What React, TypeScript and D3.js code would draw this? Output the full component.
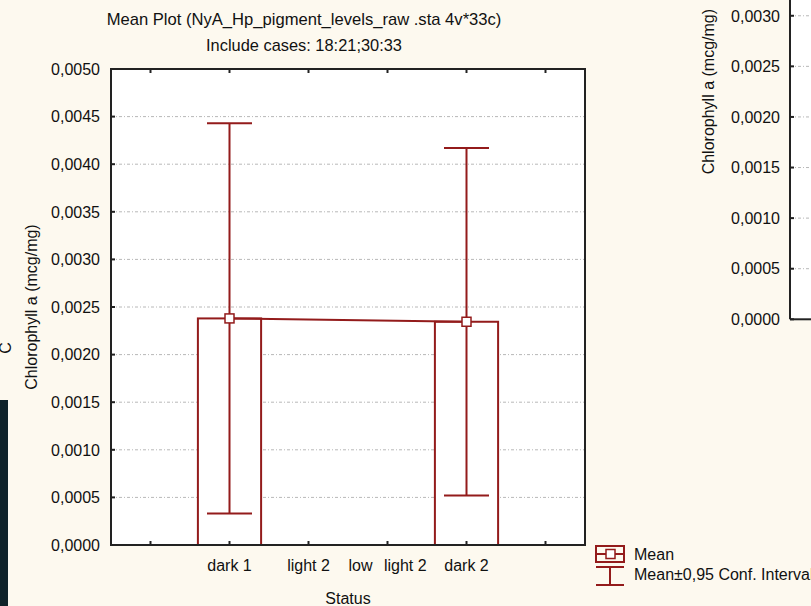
import React from 'react';
import * as d3 from 'd3';

// slots on the x axis: blank tick at each end, four status groups in between
const slots = ['', 'dark 1', 'light 2', 'low light 2', 'dark 2', ' '];
const categories = ['dark 1', 'light 2', 'low light 2', 'dark 2'];
const means: (number | null)[] = [0.00238, null, null, 0.002345];
const ciHalf: (number | null)[] = [0.00205, null, null, 0.001825];
const yTicks = [0, 0.0005, 0.001, 0.0015, 0.002, 0.0025, 0.003, 0.0035, 0.004, 0.0045, 0.005];
const sideTicks = [0, 0.0005, 0.001, 0.0015, 0.002, 0.0025, 0.003, 0.0035, 0.004];

const W = 811, H = 606;
const FONT = '"Liberation Sans", Arial, sans-serif';
const RED = '#931b1b';
const BG = '#fdf9ef';

const fmt = (v: number) => d3.format('.4f')(v).replace('.', ',');

const App = () => {
  const plot = { left: 111, right: 585, top: 69, bottom: 545 };

  const x = d3.scalePoint<string>()
    .domain(slots)
    .range([plot.left, plot.right])
    .padding(0.5);
  const step = x.step();
  const barW = step * 0.8;

  const y = d3.scaleLinear().domain([0, 0.005]).range([plot.bottom, plot.top]);

  // partial neighbouring chart on the right
  const ySide = d3.scaleLinear().domain([0, 0.0045]).range([319.3, -136]);
  const sideLeft = 790;

  const pts = categories
    .map((c, i) => ({ c, m: means[i], ci: ciHalf[i] }))
    .filter(d => d.m !== null) as { c: string; m: number; ci: number }[];

  const line = d3.line<{ c: string; m: number }>()
    .x(d => x(d.c)!)
    .y(d => y(d.m));

  const capW = 45;

  // long labels get a wider gap after the first word, like the original
  const xLabel = (c: string) => {
    const words = c.split(' ');
    if (words.length < 3) return c;
    return [
      <tspan key="a">{words[0]}</tspan>,
      <tspan key="b" dx={7}>{' ' + words.slice(1).join(' ')}</tspan>,
    ];
  };

  return (
    <svg width={W} height={H} style={{ position: 'absolute', left: 0, top: 0, background: BG }}
      fontFamily={FONT} fontSize={16} fill="#111">
      <rect x={0} y={0} width={W} height={H} fill={BG} />

      {/* left window strip */}
      <rect x={0} y={400} width={8} height={H - 400} fill="#0f2229" />
      <text transform="translate(11,348) rotate(-90)" textAnchor="middle">C</text>

      {/* titles */}
      <text x={304} y={25} textAnchor="middle" fontSize={16.6}>Mean Plot (NyA_Hp_pigment_levels_raw .sta 4v*33c)</text>
      <text x={304} y={51} textAnchor="middle" fontSize={16.4}>Include cases: 18:21;30:33</text>

      {/* plot area */}
      <rect x={plot.left} y={plot.top} width={plot.right - plot.left} height={plot.bottom - plot.top} fill="#fff" />
      {yTicks.filter(t => t > 0 && t < 0.005).map(t => (
        <line key={'g' + t} x1={plot.left} x2={plot.right} y1={y(t)} y2={y(t)}
          stroke="#b8b8b8" strokeWidth={1} strokeDasharray="3,2,1,2" />
      ))}

      {/* bars */}
      {pts.map(d => (
        <rect key={'b' + d.c} x={x(d.c)! - barW / 2} y={y(d.m)} width={barW} height={y(0) - y(d.m)}
          fill="#fff" stroke={RED} strokeWidth={2} />
      ))}

      {/* confidence whiskers */}
      {pts.map(d => (
        <g key={'w' + d.c} stroke={RED} strokeWidth={2}>
          <line x1={x(d.c)!} x2={x(d.c)!} y1={y(d.m + d.ci)} y2={y(d.m - d.ci)} />
          <line x1={x(d.c)! - capW / 2} x2={x(d.c)! + capW / 2} y1={y(d.m + d.ci)} y2={y(d.m + d.ci)} />
          <line x1={x(d.c)! - capW / 2} x2={x(d.c)! + capW / 2} y1={y(d.m - d.ci)} y2={y(d.m - d.ci)} />
        </g>
      ))}

      {/* mean line + markers */}
      <path d={line(pts) || ''} fill="none" stroke={RED} strokeWidth={2} />
      {pts.map(d => (
        <rect key={'m' + d.c} x={x(d.c)! - 4.5} y={y(d.m) - 4.5} width={9} height={9}
          fill="#fff" stroke={RED} strokeWidth={1.5} />
      ))}

      {/* frame */}
      <rect x={plot.left} y={plot.top} width={plot.right - plot.left} height={plot.bottom - plot.top}
        fill="none" stroke="#222" strokeWidth={2} />

      {/* y axis */}
      {yTicks.map(t => (
        <g key={'y' + t}>
          <line x1={plot.left} x2={plot.left + 4} y1={y(t)} y2={y(t)} stroke="#222" strokeWidth={2} />
          <text x={plot.left - 11} y={y(t)} dy="0.36em" textAnchor="end">{fmt(t)}</text>
        </g>
      ))}
      <text transform={`translate(37,${(plot.top + plot.bottom) / 2}) rotate(-90)`} textAnchor="middle">
        Chlorophyll a (mcg/mg)
      </text>

      {/* x axis */}
      {slots.map(s => (
        <g key={'x' + s}>
          <line x1={x(s)!} x2={x(s)!} y1={plot.top} y2={plot.top + 4} stroke="#222" strokeWidth={2} />
          <line x1={x(s)!} x2={x(s)!} y1={plot.bottom} y2={plot.bottom - 4} stroke="#222" strokeWidth={2} />
        </g>
      ))}
      {categories.map(c => (
        <text key={'xl' + c} x={x(c)!} y={571} textAnchor="middle">{xLabel(c)}</text>
      ))}
      <text x={(plot.left + plot.right) / 2} y={604} textAnchor="middle">Status</text>

      {/* legend */}
      <g stroke={RED} strokeWidth={2} fill="none">
        <rect x={596} y={546} width={28} height={16} />
        <line x1={596} x2={624} y1={554} y2={554} />
        <rect x={606} y={549.5} width={9} height={9} fill="#fff" strokeWidth={1.5} />
        <line x1={596} x2={624} y1={567} y2={567} />
        <line x1={610} x2={610} y1={567} y2={585} />
        <line x1={596} x2={624} y1={585} y2={585} />
      </g>
      <text x={634} y={560}>Mean</text>
      <text x={634} y={580}>Mean±0,95 Conf. Interval</text>

      {/* neighbouring chart, clipped by window edge */}
      <rect x={sideLeft} y={0} width={W - sideLeft} height={ySide(0)} fill="#fff" />
      {sideTicks.filter(t => t > 0 && ySide(t) > 0).map(t => (
        <line key={'sg' + t} x1={sideLeft} x2={W} y1={ySide(t)} y2={ySide(t)}
          stroke="#b8b8b8" strokeWidth={1} strokeDasharray="3,2,1,2" />
      ))}
      <line x1={sideLeft} x2={sideLeft} y1={0} y2={ySide(0)} stroke="#222" strokeWidth={2} />
      <line x1={sideLeft} x2={W} y1={ySide(0)} y2={ySide(0)} stroke="#222" strokeWidth={2} />
      {sideTicks.filter(t => ySide(t) > 0).map(t => (
        <g key={'st' + t}>
          <line x1={sideLeft} x2={sideLeft + 4} y1={ySide(t)} y2={ySide(t)} stroke="#222" strokeWidth={2} />
          <text x={sideLeft - 10} y={ySide(t)} dy="0.36em" textAnchor="end">{fmt(t)}</text>
        </g>
      ))}
      <text transform={`translate(714,${(ySide(0) + ySide(0.0045)) / 2}) rotate(-90)`} textAnchor="middle">
        Chlorophyll a (mcg/mg)
      </text>
    </svg>
  );
};

export default App;
